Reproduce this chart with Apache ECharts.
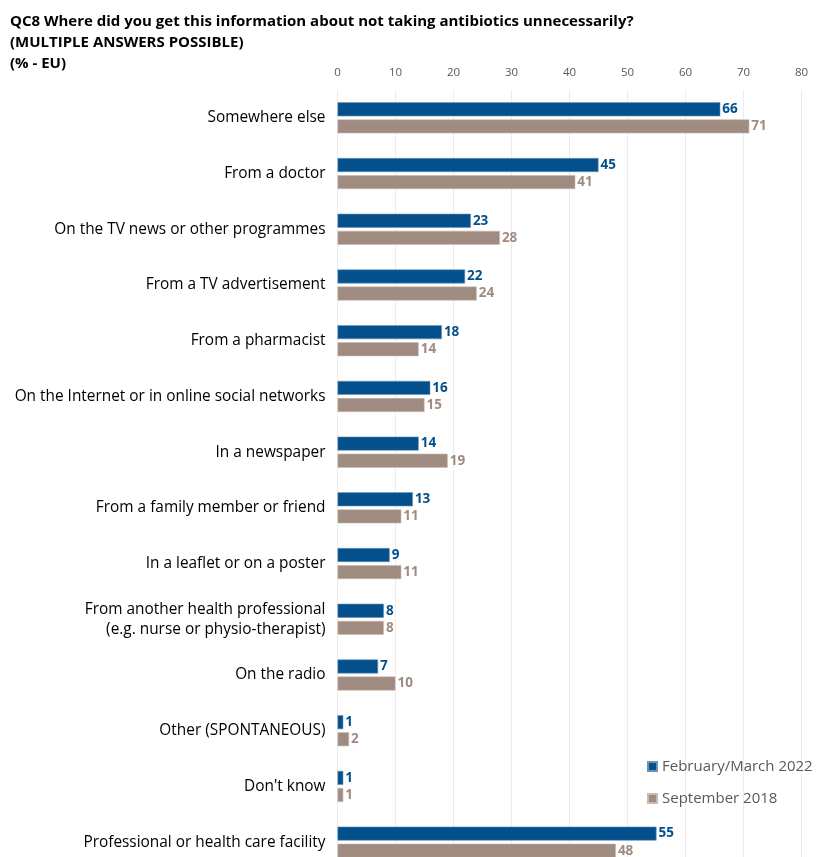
<!DOCTYPE html>
<html><head><meta charset="utf-8">
<script src="https://cdn.jsdelivr.net/npm/echarts@6/dist/echarts.min.js"></script>
<style>html,body{margin:0;padding:0;background:#fff}#c{width:817px;height:857px}</style>
</head><body><div id="c"></div>
<script>
var categories = [
  "Somewhere else",
  "From a doctor",
  "On the TV news or other programmes",
  "From a TV advertisement",
  "From a pharmacist",
  "On the Internet or in online social networks",
  "In a newspaper",
  "From a family member or friend",
  "In a leaflet or on a poster",
  "From another health professional\n(e.g. nurse or physio-therapist)",
  "On the radio",
  "Other (SPONTANEOUS)",
  "Don't know",
  "Professional or health care facility"
];
var seriesNames = ["February/March 2022", "September 2018"];
var feb2022 = [66, 45, 23, 22, 18, 16, 14, 13, 9, 8, 7, 1, 1, 55];
var sep2018 = [71, 41, 28, 24, 14, 15, 19, 11, 11, 8, 10, 2, 1, 48];
var xTicks = [0, 10, 20, 30, 40, 50, 60, 70, 80];

var FONT = "Open Sans";
var BLUE = "#03508C", GREY = "#A08B80";
var chart = echarts.init(document.getElementById('c'), null, {renderer: 'canvas'});
chart.setOption({
  animation: false,
  textStyle: {fontFamily: FONT},
  title: {
    text: "QC8 Where did you get this information about not taking antibiotics unnecessarily?\n(MULTIPLE ANSWERS POSSIBLE)\n(% - EU)",
    left: 5, top: 6,
    textStyle: {fontFamily: FONT, fontSize: 15, fontWeight: 'bold', color: '#000', lineHeight: 21}
  },
  legend: {
    orient: 'vertical', left: 642, top: 754,
    itemWidth: 9, itemHeight: 9, itemGap: 17,
    icon: 'rect',
    textStyle: {fontFamily: FONT, fontSize: 15, color: '#595959'},
    data: seriesNames
  },
  grid: {left: 337.5, top: 90, width: 464, height: 780, containLabel: false, outerBoundsMode: 'none'},
  xAxis: {
    type: 'value', position: 'top', min: xTicks[0], max: xTicks[xTicks.length-1], interval: 10,
    axisLine: {show: false}, axisTick: {show: false},
    axisLabel: {color: '#595959', fontSize: 11.5, margin: 11, fontFamily: FONT},
    splitLine: {show: true, lineStyle: {color: '#ECECEC', width: 1}}
  },
  yAxis: {
    type: 'category', inverse: true, data: categories,
    axisLine: {show: false}, axisTick: {show: false},
    axisLabel: {color: '#000', fontSize: 15.4, margin: 12, lineHeight: 20, fontFamily: FONT, align: 'right'}
  },
  series: [
    {name: seriesNames[0], type: 'bar', data: feb2022, barWidth: 14, barGap: '22%',
     itemStyle: {color: BLUE, borderColor: '#6F93B5', borderWidth: 0.6},
     label: {show: true, position: 'right', distance: 2, color: BLUE, fontWeight: 'bold', fontSize: 13.5, fontFamily: FONT}},
    {name: seriesNames[1], type: 'bar', data: sep2018, barWidth: 14, barGap: '22%',
     itemStyle: {color: GREY, borderColor: '#C9BBB3', borderWidth: 0.6},
     label: {show: true, position: 'right', distance: 2, color: GREY, fontWeight: 'bold', fontSize: 13.5, fontFamily: FONT}}
  ]
});
</script></body></html>
